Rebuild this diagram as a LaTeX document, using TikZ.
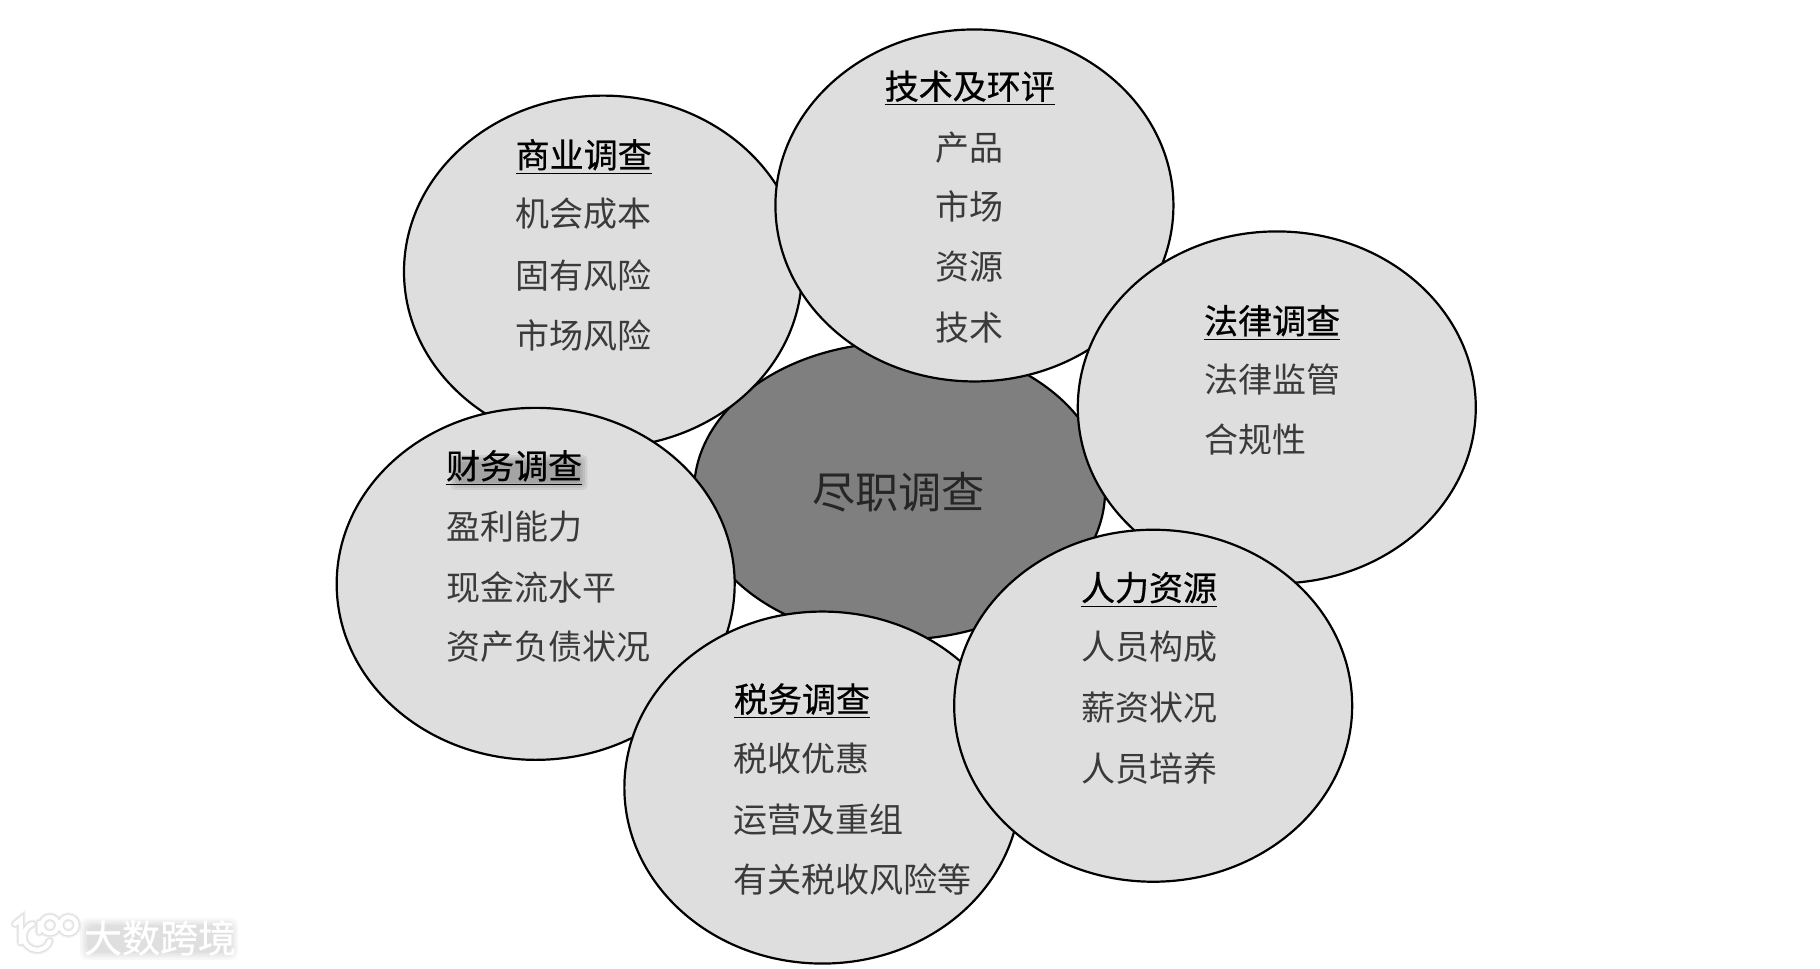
\documentclass[tikz,border=0pt]{standalone}
\usepackage{fontspec}
\usetikzlibrary{shapes.geometric}
\setmainfont{Noto Sans CJK SC}
\newfontfamily\cjk{Noto Sans CJK SC}
\newfontfamily\cjkfake[FakeBold=0.6]{Noto Sans CJK SC}
\definecolor{bubfill}{HTML}{DEDEDE}
\definecolor{corefill}{HTML}{7F7F7F}
\definecolor{inktext}{HTML}{3A3A3A}
\tikzset{
  bub/.style={ellipse,draw=black,line width=1.1pt,fill=bubfill,inner sep=0pt,minimum width=199pt,minimum height=176pt},
  core/.style={ellipse,draw=black,line width=1.1pt,fill=corefill,inner sep=0pt,minimum width=205.5pt,minimum height=148.5pt},
  lbl/.style={inner sep=0pt,anchor=west,text=inktext,font=\cjk\fontsize{17}{20}\selectfont},
  lblc/.style={lbl,anchor=center},
  hd/.style={inner sep=0pt,anchor=west,text=black,font=\cjkfake\fontsize{17}{20}\selectfont},
  hdc/.style={hd,anchor=center},
  wm/.style={font=\cjkfake\fontsize{19}{20}\selectfont,inner sep=0pt},
  glow/.style={fill=black,draw=none,rounded corners=4pt,opacity=0.03},
  logo/.style={line cap=round}
}
\newcommand{\hdtext}[1]{\underline{#1}}
\newcommand{\logomarks}{%
  (13,796) -- (18,792) -- (18,812)
  (34,795) -- (34,803)
  (28,796) arc (250:20:11.5)
  (43,797) circle (7) (59,797) circle (7)}
\begin{document}
\begin{tikzpicture}[x=0.58036pt,y=-0.58036pt]
\useasboundingbox[fill=white] (0,0) rectangle (1568,834);
% ellipses, back to front
\node[core] (core) at (775,423) {};
\node[bub] (biz) at (519.5,234) {};
\node[bub] (fin) at (461.5,503) {};
\node[bub,minimum width=198pt] (tax) at (708.5,678.5) {};
\node[bub] (tech) at (839.5,177) {};
\node[bub] (law) at (1100,351) {};
\node[bub] (hr) at (993.5,608) {};
\node[inner sep=0pt,text=black!85,font=\cjk\fontsize{21.6}{24}\selectfont] (coret) at (774,424) {尽职调查};
% business
\node[hd] (b0) at (444,135) {\hdtext{商业调查}};
\node[lbl] (b1) at (444,184) {机会成本};
\node[lbl] (b2) at (444,237) {固有风险};
\node[lbl] (b3) at (444,289) {市场风险};
% tech
\node[hdc] (t0) at (835.5,76) {\hdtext{技术及环评}};
\node[lblc] (t1) at (835,127) {产品};
\node[lblc] (t2) at (835,178) {市场};
\node[lblc] (t3) at (835,230) {资源};
\node[lblc] (t4) at (835,282) {技术};
% law
\node[hd] (l0) at (1037,278) {\hdtext{法律调查}};
\node[lbl] (l1) at (1037,327) {法律监管};
\node[lbl] (l2) at (1037,379) {合规性};
% hr
\node[hd] (h0) at (931,508) {\hdtext{人力资源}};
\node[lbl] (h1) at (931,557) {人员构成};
\node[lbl] (h2) at (931,610) {薪资状况};
\node[lbl] (h3) at (931,662) {人员培养};
% tax
\node[hd] (x0) at (632,604) {\hdtext{税务调查}};
\node[lbl] (x1) at (632,654) {税收优惠};
\node[lbl] (x2) at (632,706) {运营及重组};
\node[lbl] (x3) at (632,758) {有关税收风险等};
% finance, with soft shadow behind the heading
\foreach \g in {0,2,4,6}{
  \fill[black,opacity=0.07,rounded corners=2pt] (388+\g,392+\g) rectangle (506-\g,422-\g);
}
\node[hd] (f0) at (384,403) {\hdtext{财务调查}};
\node[lbl] (f1) at (384,454) {盈利能力};
\node[lbl] (f2) at (384,506) {现金流水平};
\node[lbl] (f3) at (384,557) {资产负债状况};
% watermark: soft glow, then white marks
\foreach \g in {0,2,4,6}{
  \fill[glow] (69+\g,791+\g) rectangle (205-\g,827-\g);
}
\foreach \g in {0,2,4}{
  \draw[logo,black,opacity=0.06,line width={4.6pt-\g*0.6pt}] \logomarks;
}
\node[wm,text=white,anchor=west] (wm) at (72,808) {大数跨境};
\draw[logo,white,line width=2.2pt] \logomarks;
\end{tikzpicture}
\end{document}
